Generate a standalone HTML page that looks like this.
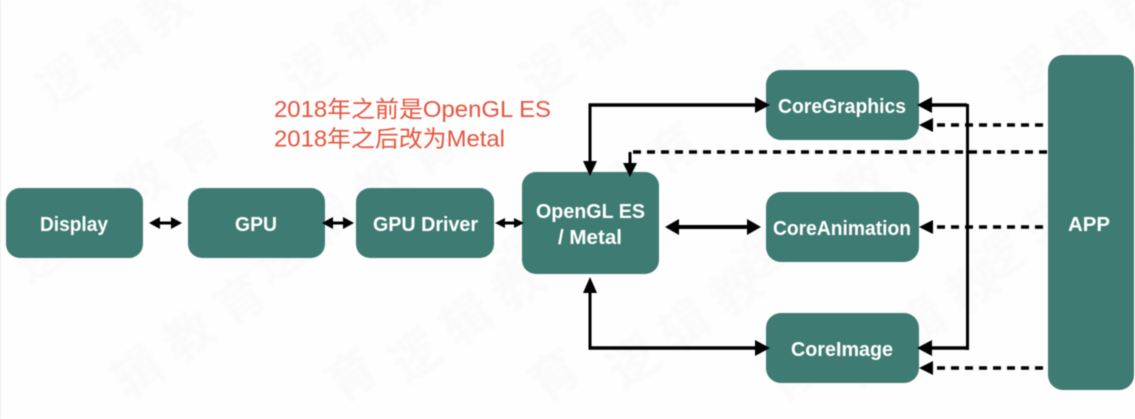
<!DOCTYPE html>
<html><head><meta charset="utf-8"><style>
html,body{margin:0;padding:0;background:#fefefe;width:1135px;height:419px;overflow:hidden}
svg{display:block;overflow:hidden;filter:blur(.4px)}
.n{font:bold 20px "Liberation Sans","Noto Sans CJK SC",sans-serif;fill:#fff}
.r{font:23px "Liberation Sans","Noto Sans CJK SC",sans-serif;fill:#e5553d}
.w{font:bold 50px "Noto Sans CJK SC","Liberation Sans",sans-serif;fill:#fafafa;letter-spacing:13px}
</style></head><body>
<svg width="1135" height="419" viewBox="0 0 1135 419" xmlns="http://www.w3.org/2000/svg">
<defs><filter id="b" x="-5%" y="-5%" width="110%" height="110%"><feGaussianBlur stdDeviation="1.2"/></filter></defs>
<rect width="1135" height="419" fill="#fefefe"/>
<rect width="1" height="419" fill="#eeeeee"/>
<g filter="url(#b)">
<text class="w" transform="translate(52,111) rotate(-35)">逻辑教</text>
<text class="w" transform="translate(299,100) rotate(-35)">逻辑教</text>
<text class="w" transform="translate(537,101) rotate(-35)">逻辑教</text>
<text class="w" transform="translate(779,103) rotate(-35)">逻辑教</text>
<text class="w" transform="translate(1019,103) rotate(-35)">逻辑教</text>
<text class="w" transform="translate(29,285) rotate(-35)">逻辑教育</text>
<text class="w" transform="translate(267,286) rotate(-35)">逻辑教育</text>
<text class="w" transform="translate(509,286) rotate(-35)">逻辑教育</text>
<text class="w" transform="translate(749,286) rotate(-35)">逻辑教育</text>
<text class="w" transform="translate(989,286) rotate(-35)">逻辑教育</text>
<text class="w" transform="translate(127,401) rotate(-35)">辑教育</text>
<text class="w" transform="translate(405,385) rotate(-35)">逻辑教</text>
<text class="w" transform="translate(623,391) rotate(-35)">逻辑教</text>
<text class="w" transform="translate(859,388) rotate(-35)">逻辑教</text>
<text class="w" transform="translate(341,404) rotate(-35)">育</text>
<text class="w" transform="translate(544,404) rotate(-35)">育</text>
<text class="w" transform="translate(780,404) rotate(-35)">育</text>
</g>
<g fill="#3e7b72">
<rect x="6" y="188" width="137" height="70" rx="14"/>
<rect x="188" y="188" width="137" height="70" rx="14"/>
<rect x="356" y="188" width="138" height="70" rx="14"/>
<rect x="522" y="172" width="137" height="102" rx="14"/>
<rect x="766" y="70" width="153" height="70" rx="15"/>
<rect x="766" y="192" width="153" height="70" rx="15"/>
<rect x="766" y="313" width="153" height="70" rx="15"/>
<rect x="1048" y="55" width="86" height="335" rx="15"/>
</g>
<text class="n" x="40" y="231" textLength="68" lengthAdjust="spacingAndGlyphs">Display</text>
<text class="n" x="235" y="231" textLength="42" lengthAdjust="spacingAndGlyphs">GPU</text>
<text class="n" x="373" y="231" textLength="105" lengthAdjust="spacingAndGlyphs">GPU Driver</text>
<text class="n" x="536" y="218" textLength="109" lengthAdjust="spacingAndGlyphs">OpenGL ES</text>
<text class="n" x="558" y="244" textLength="64" lengthAdjust="spacingAndGlyphs">/ Metal</text>
<text class="n" x="778" y="113" textLength="128" lengthAdjust="spacingAndGlyphs">CoreGraphics</text>
<text class="n" x="773" y="235" textLength="138" lengthAdjust="spacingAndGlyphs">CoreAnimation</text>
<text class="n" x="791" y="356" textLength="102" lengthAdjust="spacingAndGlyphs">CoreImage</text>
<text class="n" x="1068" y="231" textLength="42" lengthAdjust="spacingAndGlyphs">APP</text>
<text class="r" x="274" y="117" textLength="277" lengthAdjust="spacingAndGlyphs">2018年之前是OpenGL ES</text>
<text class="r" x="274" y="146.5" textLength="231" lengthAdjust="spacingAndGlyphs">2018年之后改为Metal</text>
<g fill="none" stroke="#000" stroke-width="3">
<path d="M160 223H172"/><path d="M332 223H344"/><path d="M503 223H516"/>
<path d="M590 162V105"/>
<path d="M588.5 105H757" stroke-width="3.5"/>
<path d="M675 227H751" stroke-width="4"/>
<path d="M590 290V348"/>
<path d="M588.5 348H757" stroke-width="3.5"/>
<path d="M967.5 104V350"/>
<path d="M930 105H967M930 348H967" stroke-width="3.5"/>
<path d="M630 165V152"/>
<g stroke-dasharray="8 6" stroke-width="3.5">
<path d="M1047 152H632"/>
<path d="M1043 125H932"/>
<path d="M1043 227H932"/>
<path d="M1043 368H932"/>
</g>
</g>
<g fill="#000">
<path d="M149 223l11-6v12zM182 223l-11-6v12z"/>
<path d="M322 223l11-6v12zM354 223l-11-6v12z"/>
<path d="M495 223l10-5v10zM524 223l-10-5v10z"/>
<path d="M590 176l-7-15h14z"/>
<path d="M770 105l-15-8v16z"/>
<path d="M630 177l-7-14h14z"/>
<path d="M665 227l14-8v16zM761 227l-14-8v16z"/>
<path d="M590 277l-7 16h14z"/>
<path d="M770 348l-15-8v16z"/>
<path d="M917 105l15-8v16z"/>
<path d="M917 348l15-8v16z"/>
<path d="M919 125l14-7v14z"/>
<path d="M919 227l14-7v14z"/>
<path d="M919 368l14-7v14z"/>
</g>
</svg>
</body></html>
